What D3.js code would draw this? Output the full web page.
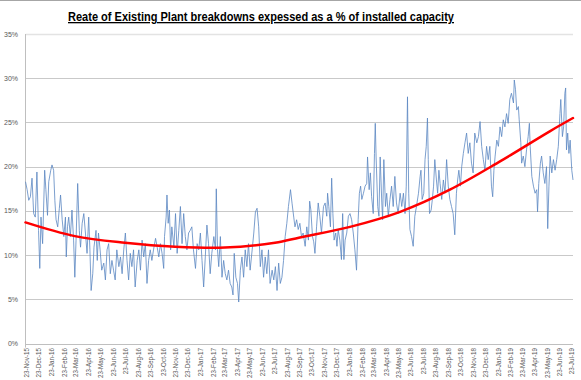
<!DOCTYPE html>
<html><head><meta charset="utf-8">
<script src="https://cdn.jsdelivr.net/npm/d3@7"></script>
<style>body{margin:0;background:#fff}svg{display:block}</style>
</head><body>
<svg id="c" width="581" height="380"></svg>
<script>
const title = "Reate of Existing Plant breakdowns expessed as a % of installed capacity";
const startDate = "2015-11-20";
const endDate = "2019-07-25";
// blue series: day offset from startDate and value (%)
const dayOffsets = [0,4,8,12,16,20,24,28,32,35,38,42,47,50,54,57,62,65,69,72,75,79,83,86,90,94,98,100,103,106,110,114,118,121,124,128,132,135,139,143,147,151,155,158,161,165,168,173,176,179,183,187,192,196,200,204,208,212,216,220,224,229,233,237,241,245,249,253,257,261,265,269,274,278,282,286,290,294,298,302,306,310,314,319,323,327,331,335,339,341,345,347,350,353,356,359,364,368,372,376,380,384,388,392,396,400,404,408,412,417,421,425,429,433,437,441,445,449,453,457,462,466,468,471,474,478,482,486,490,494,498,502,506,509,512,516,520,523,527,531,535,539,543,547,551,556,560,564,568,572,576,580,584,588,592,596,600,605,609,613,617,621,625,629,633,637,641,645,650,654,658,
661,665,669,673,677,681,686,690,694,697,700,704,707,710,714,718,722,726,731,735,739,741,744,748,751,754,757,761,764,767,771,775,778,781,784,788,792,796,800,804,808,812,816,819,822,825,829,833,837,839,843,846,849,853,856,858,860,864,867,870,874,876,879,883,886,890,894,898,902,906,910,914,919,923,927,931,934,937,940,943,947,951,955,959,964,968,970,973,977,980,983,986,988,991,995,998,1001,1004,1008,1011,1014,1017,1021,1025,1029,1033,1037,1041,1045,1049,1053,1057,1060,1063,1067,1070,1074,1078,1082,1086,1090,1094,1098,1102,1107,1111,1115,1119,1123,1127,1131,1135,1139,1143,1146,1149,1152,1156,1160,1164,1168,1172,1176,1180,1184,1188,1192,1197,1199,1202,1205,1209,1211,1215,1217,1221,1225,1229,1233,1236,1238,1242,1246,1250,1254,1256,1259,1263,1266,1270,1274,1278,1281,1284,1287,1291,1295,1299,1303,1307,1311,1313,1317,1320,1323,1325,1327,1330,1333,1336,1340,1343];
const values = [18.3,17.4,16.2,16.6,18.7,14.7,14.3,19.4,12.8,8.5,14.3,11.3,19.6,17.4,14.5,18.3,19.6,20.2,19.6,16.2,14.0,13.2,15.3,16.8,14.0,12.1,14.3,9.8,13.2,14.3,12.1,15.1,11.7,7.5,11.7,18.1,12.8,10.9,13.6,14.7,12.5,10.2,14.3,10.6,6.0,7.9,10.9,12.8,9.4,12.5,10.6,8.3,9.1,7.2,10.6,11.3,7.9,9.4,8.3,7.2,10.6,8.7,9.8,7.9,10.6,12.5,9.4,7.2,10.2,8.7,10.6,6.4,9.4,10.6,8.3,11.7,9.8,11.3,6.8,9.4,10.6,9.4,10.6,11.9,10.9,9.8,11.3,10.2,8.5,12.1,14.3,16.8,13.6,15.1,10.6,13.2,10.9,14.7,10.2,12.8,15.5,11.3,14.7,12.1,10.6,12.5,12.8,13.2,10.6,8.5,11.3,10.6,12.5,9.4,6.4,9.8,13.4,11.3,7.9,10.2,12.1,10.6,17.5,10.6,8.7,12.1,7.5,9.4,7.9,7.2,8.3,6.8,6.4,5.5,10.2,7.5,6.8,4.7,8.3,9.8,7.5,10.6,8.7,11.3,8.3,10.6,12.5,14.9,15.3,13.2,8.7,10.6,7.5,9.8,7.9,10.6,6.8,8.3,7.2,8.7,6.0,9.1,6.8,7.5,9.4,12.1,13.6,15.5,17.4,15.8,14.3,
13.2,14.0,12.9,13.6,12.1,12.5,11.0,13.2,11.7,16.1,15.1,12.1,11.5,10.2,13.2,15.9,14.4,12.5,15.5,15.9,14.4,17.0,15.5,13.2,18.7,14.7,11.7,12.5,11.0,12.9,11.7,9.5,14.7,9.5,11.7,12.5,14.4,14.7,14.0,12.5,10.6,8.3,14.0,17.0,17.8,16.3,17.0,17.8,18.1,21.1,17.4,19.3,16.6,14.7,21.5,24.9,21.1,15.5,14.4,21.1,15.9,14.0,20.8,15.5,17.0,14.4,16.3,17.8,15.5,18.9,15.9,14.7,17.0,15.5,17.0,14.7,17.8,27.9,17.0,12.9,12.1,11.0,14.4,15.5,17.0,18.9,19.6,16.3,17.0,20.8,22.3,25.5,20.8,14.7,15.1,16.3,17.8,20.8,18.5,17.0,19.6,18.1,16.3,18.5,17.0,20.8,17.8,16.3,15.5,14.7,12.3,17.0,18.5,19.6,17.8,20.0,21.5,22.7,23.8,21.5,22.7,20.4,19.3,23.8,22.7,23.4,25.1,22.3,20.8,19.6,22.3,20.8,22.3,17.8,16.6,19.6,21.2,23.0,22.3,24.5,23.4,25.3,24.5,26.0,24.9,27.6,28.3,27.2,29.8,28.7,26.4,26.8,25.3,22.7,20.4,21.2,20.0,21.9,23.4,24.9,22.3,18.9,17.8,17.0,17.4,14.9,18.1,20.4,21.2,19.3,18.1,20.0,13.0,17.8,21.2,19.3,20.8,19.6,20.8,22.3,26.0,27.6,23.4,24.5,28.3,28.9,21.9,23.8,21.5,23.0,19.6,18.5];
// trendline readings (day offset, %)
const trendDays = [0,121,244,367,489,612,673,796,919,1041,1164,1286,1343];
const trendValues = [13.7,12.15,11.4,10.95,10.85,11.4,12.0,13.2,14.9,17.4,20.6,24.0,25.5];
const yTicks = [0,5,10,15,20,25,30,35];
const xTickLabels = ["23-Nov-15","23-Dec-15","23-Jan-16","23-Feb-16","23-Mar-16","23-Apr-16","23-May-16","23-Jun-16","23-Jul-16","23-Aug-16","23-Sep-16","23-Oct-16","23-Nov-16","23-Dec-16","23-Jan-17","23-Feb-17","23-Mar-17","23-Apr-17","23-May-17","23-Jun-17","23-Jul-17","23-Aug-17","23-Sep-17","23-Oct-17","23-Nov-17","23-Dec-17","23-Jan-18","23-Feb-18","23-Mar-18","23-Apr-18","23-May-18","23-Jun-18","23-Jul-18","23-Aug-18","23-Sep-18","23-Oct-18","23-Nov-18","23-Dec-18","23-Jan-19","23-Feb-19","23-Mar-19","23-Apr-19","23-May-19","23-Jun-19","23-Jul-19"];

(function(){
const svg = d3.select("#c");
const W = 581, H = 380;
const pLeft = 25.5, pRight = 573, pTop = 34, pBottom = 343.6;
const parseISO = d3.timeParse("%Y-%m-%d");
const parseLbl = d3.timeParse("%d-%b-%y");
const t0 = parseISO(startDate);
const dayDate = d => d3.timeDay.offset(t0, d);
const x = d3.scaleTime().domain([t0, parseISO(endDate)]).range([pLeft, pRight]);
const y = d3.scaleLinear().domain([0, 35]).range([pBottom, pTop]);

svg.append("line").attr("x1",0).attr("x2",W).attr("y1",0.5).attr("y2",0.5).attr("stroke","#a6a6a6");

// title
svg.append("text").attr("x", 261).attr("y", 21).attr("text-anchor","middle")
  .attr("font-family","Liberation Sans, Arial, sans-serif").attr("font-weight","bold")
  .attr("font-size", 13).attr("textLength", 386).attr("lengthAdjust","spacingAndGlyphs")
  .attr("text-decoration","underline").attr("fill","#000").text(title);

// grid
svg.append("g").selectAll("line").data(yTicks.filter(d=>d>0)).join("line")
  .attr("x1", pLeft).attr("x2", pRight).attr("y1", d=>Math.round(y(d))+0.5).attr("y2", d=>Math.round(y(d))+0.5)
  .attr("stroke", d => d===35 ? "#e3e3e3" : "#c9c9c9").attr("stroke-width", d => d===35 ? 1.5 : 1);

// axes lines
svg.append("line").attr("x1", pLeft).attr("x2", pLeft).attr("y1", pTop).attr("y2", pBottom+4).attr("stroke","#bfbfbf");
svg.append("line").attr("x1", pLeft).attr("x2", pRight).attr("y1", Math.round(pBottom)+0.5).attr("y2", Math.round(pBottom)+0.5).attr("stroke","#bfbfbf");

// y labels
svg.append("g").selectAll("text").data(yTicks).join("text")
  .attr("x", 18).attr("y", d=>y(d)+2.5).attr("text-anchor","end")
  .attr("font-family","Liberation Sans, Arial, sans-serif").attr("font-size",7).attr("fill","#595959")
  .text(d=>d+"%");

// x labels
svg.append("g").selectAll("text").data(xTickLabels).join("text")
  .attr("transform", d=>`translate(${x(parseLbl(d))+2.3},348) rotate(-90)`)
  .attr("text-anchor","end")
  .attr("font-family","Liberation Sans, Arial, sans-serif").attr("font-size",6.3).attr("fill","#595959")
  .text(d=>d);

// blue data line
const pts = dayOffsets.map((d,i)=>[dayDate(d), values[i]]);
svg.append("path").datum(pts)
  .attr("d", d3.line().x(d=>x(d[0])).y(d=>y(d[1])))
  .attr("fill","none").attr("stroke","#5b87c2").attr("stroke-width",0.8).attr("stroke-linejoin","round");

// trend line
const tpts = trendDays.map((d,i)=>[dayDate(d), trendValues[i]]);
svg.append("path").datum(tpts)
  .attr("d", d3.line().curve(d3.curveCatmullRom).x(d=>x(d[0])).y(d=>y(d[1])))
  .attr("fill","none").attr("stroke","#ff0000").attr("stroke-width",2.5).attr("stroke-linecap","round");
})();
</script>
</body></html>
